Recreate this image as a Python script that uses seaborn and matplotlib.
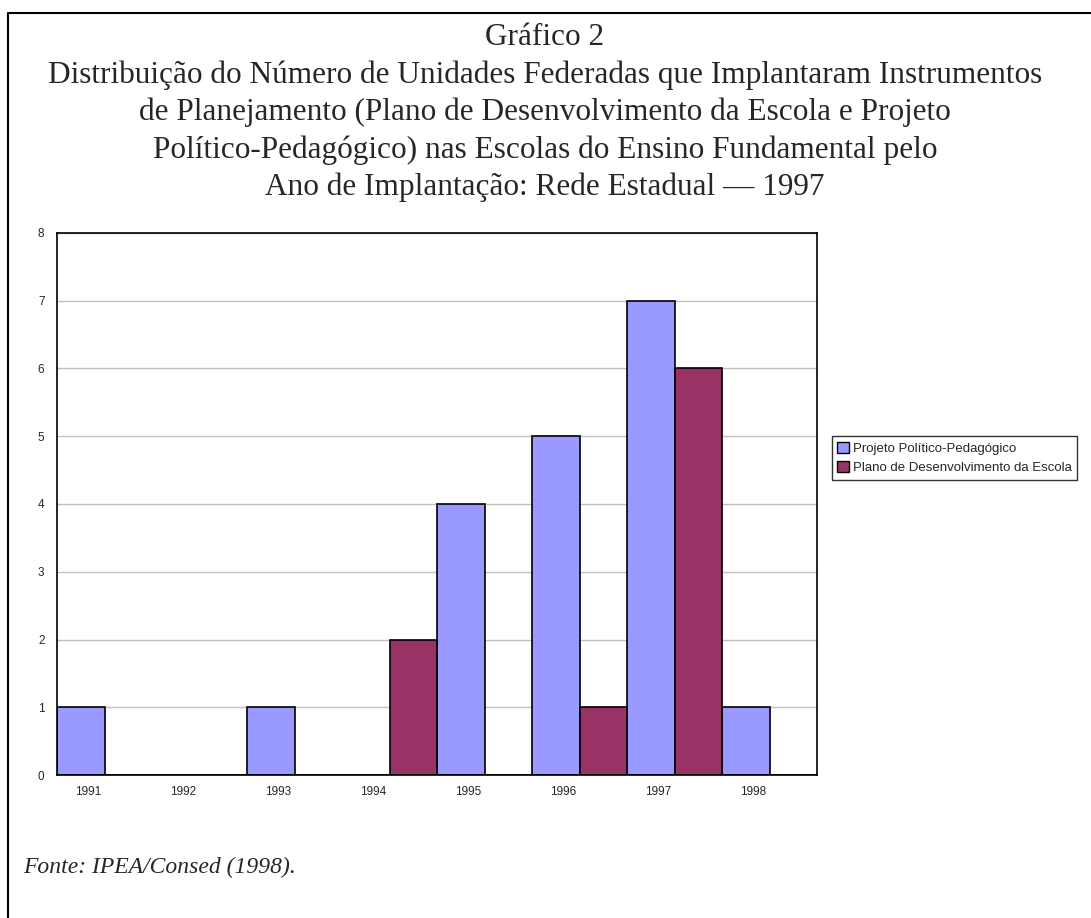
import numpy as np
import pandas as pd
import matplotlib.pyplot as plt
import matplotlib.patches as mpatches
import matplotlib.lines as mlines
import seaborn as sns

# Data
anos = ["1991", "1992", "1993", "1994", "1995", "1996", "1997", "1998"]
ppp = [1, 0, 1, 0, 4, 5, 7, 1]
pde = [0, 0, 0, 2, 0, 1, 6, 0]
series = ["Projeto Político-Pedagógico", "Plano de Desenvolvimento da Escola"]
cores = ["#9999FF", "#993366"]
titulo = ["Gráfico 2",
          "Distribuição do Número de Unidades Federadas que Implantaram Instrumentos",
          "de Planejamento (Plano de Desenvolvimento da Escola e Projeto",
          "Político-Pedagógico) nas Escolas do Ensino Fundamental pelo",
          "Ano de Implantação: Rede Estadual — 1997"]

df = pd.DataFrame({
    "Ano": anos * 2,
    "Valor": ppp + pde,
    "Serie": [series[0]] * len(anos) + [series[1]] * len(anos),
})

W, H = 1091, 918
sns.set_style("white")
fig = plt.figure(figsize=(W / 100, H / 100), dpi=100)
ax = fig.add_axes([57 / W, 1 - 775 / H, 760 / W, 542 / H])

sns.barplot(data=df, x="Ano", y="Valor", hue="Serie", hue_order=series,
            order=anos, palette=cores, width=1.0, edgecolor="black",
            linewidth=1.2, saturation=1, ax=ax, legend=False)

ax.set_xlim(-0.5, len(anos) - 0.5)
ax.set_ylim(0, 8)
ax.set_yticks(range(0, 9))
ax.yaxis.grid(True, color="#C0C0C0", linewidth=1)
ax.set_axisbelow(True)
for s in ax.spines.values():
    s.set_color("black")
    s.set_linewidth(1.2)

# category boundaries as tick marks, labels offset as in original
ax.set_xticks(np.arange(-0.5, len(anos)), minor=True)
ax.set_xticks(np.arange(len(anos)) - 0.17)
ax.set_xticklabels(anos, family="Liberation Sans", fontsize=8.5)
ax.tick_params(axis="x", which="major", length=0, pad=8)
ax.tick_params(axis="x", which="minor", length=5, width=1, color="black", direction="out")
ax.tick_params(axis="y", length=5, width=1, color="black", direction="out", pad=4)
for t in ax.get_yticklabels():
    t.set_family("Liberation Sans")
    t.set_fontsize(8.5)
ax.set_xlabel("")
ax.set_ylabel("")

# Title, one line at a time
for linha, yb in zip(titulo, [45, 83, 120, 158, 195]):
    fig.text(545 / W, 1 - yb / H, linha, ha="center", va="baseline",
             family="Liberation Serif", fontsize=22.5)

# Legend
handles = [mpatches.Patch(facecolor=c, edgecolor="black", label=s) for c, s in zip(cores, series)]
leg = fig.legend(handles=handles, loc="center left",
                 bbox_to_anchor=(832 / W, 1 - 458 / H),
                 prop={"family": "Liberation Sans", "size": 9.5},
                 frameon=True, fancybox=False, edgecolor="black",
                 handlelength=0.9, handleheight=0.9, handletextpad=0.3,
                 borderpad=0.4, labelspacing=0.5, borderaxespad=0)
leg.get_frame().set_linewidth(1)

# Source
fig.text(23 / W, 1 - 873 / H, "Fonte: IPEA/Consed (1998).", ha="left", va="baseline",
         family="Liberation Serif", style="italic", fontsize=17)

# Page frame (top and left only)
fig.lines.append(mlines.Line2D([8 / W, 8 / W, 1], [0, 1 - 13 / H, 1 - 13 / H],
                               transform=fig.transFigure, color="black", linewidth=1.5))

fig.savefig("out.png", dpi=100)
